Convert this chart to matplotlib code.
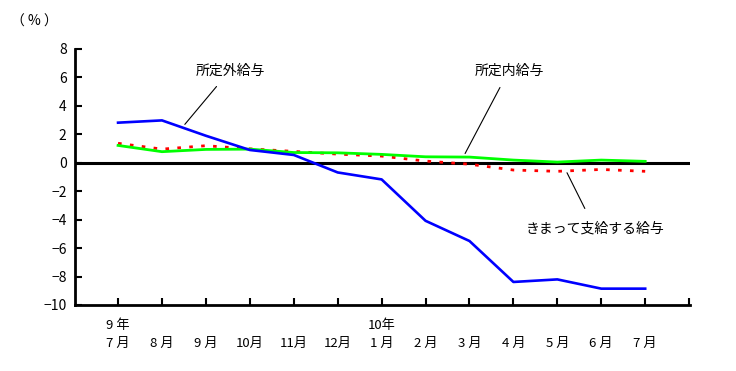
import matplotlib
matplotlib.use("Agg")
import matplotlib.pyplot as plt

plt.rcParams['font.family'] = ['Noto Sans CJK JP', 'DejaVu Sans']

months = ["7 月", "8 月", "9 月", "10月", "11月", "12月", "1 月", "2 月", "3 月", "4 月", "5 月", "6 月", "7 月"]
years = ["9 年", "", "", "", "", "", "10年", "", "", "", "", "", ""]
overtime = [2.82, 2.98, 1.9, 0.9, 0.55, -0.68, -1.17, -4.08, -5.5, -8.38, -8.2, -8.85, -8.85]
scheduled = [1.22, 0.78, 0.94, 0.96, 0.72, 0.7, 0.59, 0.42, 0.4, 0.19, 0.05, 0.19, 0.1]
contractual = [1.37, 0.96, 1.2, 0.98, 0.8, 0.61, 0.47, 0.12, -0.1, -0.51, -0.6, -0.47, -0.6]

fig = plt.figure(figsize=(7.36, 3.71), dpi=100)
ax = fig.add_axes([75/736, 1-305/371, (690-75)/736, (305-49)/371])

x = list(range(len(months)))
ax.plot(x, contractual, color='#FF0000', lw=2.0, linestyle=(0, (1.3, 3.0)), dash_capstyle='butt', zorder=3)
ax.plot(x, scheduled, color='#00FF00', lw=2.0, zorder=4)
ax.plot(x, overtime, color='#0000FF', lw=1.9, zorder=5)
ax.axhline(0, color='black', lw=2.2, zorder=2)

ax.set_xlim(-0.98, 13.02)
ax.set_ylim(-10, 8)
ax.set_yticks(range(-10, 9, 2))
ax.set_yticklabels([str(v).replace('-', '−') if v < 0 else str(v) for v in range(-10, 9, 2)], fontsize=10)
ax.set_xticks(list(range(14)))
ax.set_xticklabels([f"{y}\n{m}" for y, m in zip(years, months)] + [""], fontsize=9.5, linespacing=1.5)
ax.tick_params(axis='y', direction='in', length=5, width=1.5, pad=6)
ax.tick_params(axis='x', direction='in', length=5, width=1.5, pad=10)
for s in ['top', 'right']:
    ax.spines[s].set_visible(False)
for s in ['left', 'bottom']:
    ax.spines[s].set_linewidth(2)

ax.annotate("所定外給与", xy=(1.52, 2.7), xytext=(2.55, 6.5), fontsize=10, ha='center', va='center',
            arrowprops=dict(arrowstyle='-', color='black', lw=0.8, shrinkA=6, shrinkB=0))
ax.annotate("所定内給与", xy=(7.9, 0.65), xytext=(8.9, 6.5), fontsize=10, ha='center', va='center',
            arrowprops=dict(arrowstyle='-', color='black', lw=0.8, shrinkA=6, shrinkB=0))
ax.annotate("きまって支給する給与", xy=(10.22, -0.7), xytext=(10.85, -4.6), fontsize=10, ha='center', va='center',
            arrowprops=dict(arrowstyle='-', color='black', lw=0.8, shrinkA=8, shrinkB=0))

fig.text(34/736, 1-22/371, "（ % ）", fontsize=10, ha='center', va='center')

fig.savefig("out.png", dpi=100)
